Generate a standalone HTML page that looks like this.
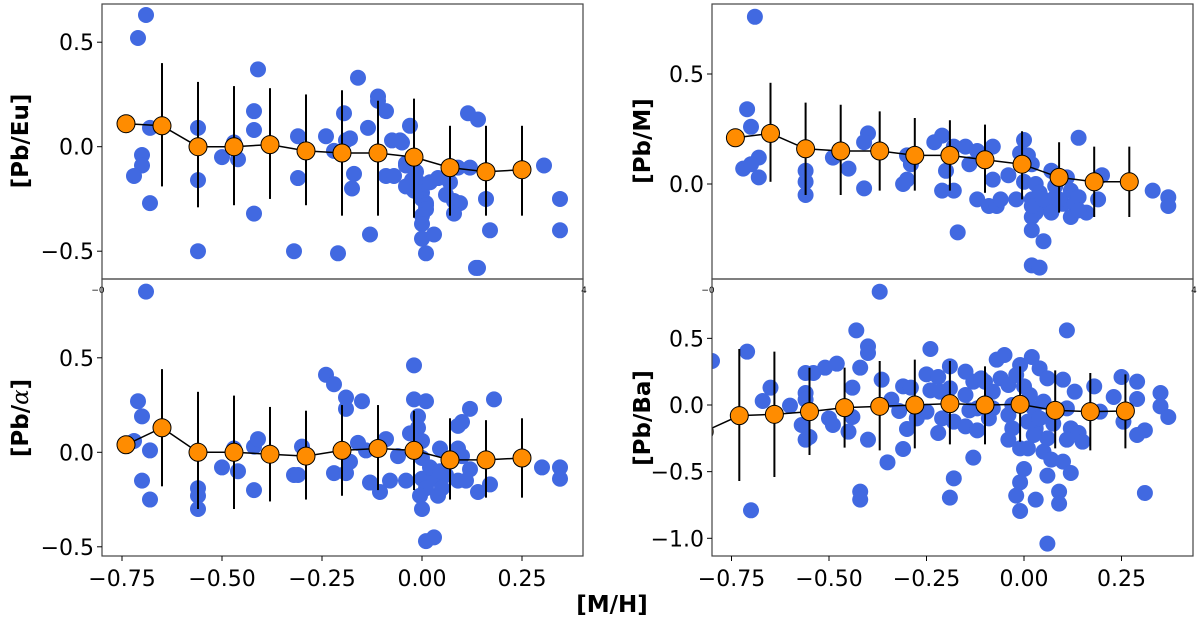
<!DOCTYPE html>
<html><head><meta charset="utf-8"><style>
html,body{margin:0;padding:0;background:#fff;}
svg{display:block;font-family:"DejaVu Sans","Liberation Sans",sans-serif;}
</style></head><body>
<svg id="chart" width="1200" height="619" viewBox="0 0 1200 619" xmlns="http://www.w3.org/2000/svg"></svg>
<script>
// ---- Panel Pb/Eu (top-left)
const euBlueX=[-0.69,-0.71,-0.68,-0.70,-0.70,-0.72,-0.68,-0.56,-0.56,-0.56,-0.50,-0.47,-0.46,-0.42,-0.42,-0.42,-0.41,-0.32,-0.31,-0.31,-0.24,-0.22,-0.16,-0.18,-0.175,-0.11,-0.11,-0.09,-0.075,-0.055,-0.05,-0.09,-0.07,-0.04,-0.04,-0.04,-0.03,-0.01,-0.025,0,0,0.01,0.01,0.01,0,0,0,0.03,0.01,0.02,-0.02,-0.015,0.04,0.06,0.07,0.08,0.095,0.08,0.09,0.115,0.14,0.12,0.16,0.17,0.14,0.305,0.345,0.345,0.135,-0.13,-0.21,-0.19,-0.195,-0.17,-0.135];
const euBlueY=[0.63,0.52,0.09,-0.04,-0.09,-0.14,-0.27,0.09,-0.16,-0.50,-0.05,0.02,-0.06,0.17,0.08,-0.32,0.37,-0.50,0.05,-0.15,0.05,-0.02,0.33,0.04,-0.20,0.24,0.22,0.17,0.03,0.03,0.02,-0.14,-0.14,-0.19,-0.08,-0.09,0.10,-0.17,-0.16,-0.22,-0.25,-0.27,-0.28,-0.30,-0.33,-0.37,-0.44,-0.42,-0.51,-0.17,-0.21,-0.12,-0.15,-0.23,-0.17,-0.26,-0.27,-0.32,-0.10,0.16,0.13,-0.10,-0.25,-0.40,-0.58,-0.09,-0.25,-0.40,-0.58,-0.42,-0.51,0.03,0.16,-0.13,0.09];
const euMedX=[-0.74,-0.65,-0.56,-0.47,-0.38,-0.29,-0.20,-0.11,-0.02,0.07,0.16,0.25];
const euMedY=[0.11,0.10,0.00,0.00,0.01,-0.02,-0.03,-0.03,-0.05,-0.10,-0.12,-0.11];
const euHi=[0.11,0.40,0.31,0.29,0.28,0.25,0.27,0.22,0.23,0.10,0.10,0.10];
const euLo=[0.11,-0.19,-0.29,-0.28,-0.25,-0.28,-0.33,-0.33,-0.34,-0.33,-0.33,-0.33];
// ---- Panel Pb/M (top-right)
const mBlueX=[-0.69,-0.71,-0.70,-0.68,-0.72,-0.70,-0.68,-0.56,-0.56,-0.56,-0.49,-0.45,-0.41,-0.40,-0.41,-0.31,-0.30,-0.30,-0.29,-0.23,-0.21,-0.20,-0.21,-0.18,-0.18,-0.15,-0.12,-0.14,-0.17,-0.08,-0.12,-0.09,-0.07,-0.06,-0.04,-0.08,-0.02,0.00,-0.01,0.01,0.02,0.00,0.03,0.02,0.04,0.06,0.03,0.02,0.02,0.05,0.02,0.04,0.07,0.08,0.11,0.12,0.10,0.13,0.14,0.16,0.12,0.14,0.19,0.20,0.33,0.37,0.37,0.07,0.02,0.05,0.08,0.09,0.14];
const mBlueY=[0.76,0.34,0.26,0.12,0.07,0.09,0.03,0.06,0.01,-0.05,0.12,0.07,-0.02,0.23,0.19,0.00,0.02,0.13,0.09,0.19,0.22,0.06,-0.03,-0.03,0.17,0.17,0.15,0.09,-0.22,0.17,-0.07,-0.10,-0.10,-0.07,0.04,0.02,-0.07,0.20,0.14,0.13,0.09,0.01,0.00,-0.07,-0.04,-0.10,-0.13,-0.15,-0.21,-0.26,-0.37,-0.38,0.06,-0.01,0.03,-0.03,-0.09,-0.09,-0.06,-0.13,-0.15,0.21,-0.07,0.04,-0.03,-0.06,-0.10,-0.13,-0.10,-0.07,-0.06,-0.07,-0.12];
const mMedX=[-0.74,-0.65,-0.56,-0.47,-0.37,-0.28,-0.19,-0.10,-0.005,0.09,0.18,0.27];
const mMedY=[0.21,0.23,0.16,0.15,0.15,0.13,0.13,0.11,0.09,0.03,0.01,0.01];
const mHi=[0.21,0.46,0.37,0.36,0.33,0.30,0.29,0.27,0.24,0.19,0.17,0.17];
const mLo=[0.21,0.01,-0.05,-0.05,-0.03,-0.03,-0.03,-0.04,-0.07,-0.13,-0.15,-0.15];
// ---- Panel Pb/alpha (bottom-left)
const aBlueX=[-0.69,-0.71,-0.70,-0.72,-0.68,-0.70,-0.68,-0.56,-0.56,-0.56,-0.50,-0.46,-0.42,-0.41,-0.42,-0.47,-0.32,-0.31,-0.30,-0.24,-0.22,-0.19,-0.19,-0.15,-0.22,-0.19,-0.18,-0.16,-0.14,-0.13,-0.105,-0.09,-0.08,-0.06,-0.04,-0.02,-0.02,0.01,-0.01,-0.01,-0.03,0.00,0.00,0.00,0.01,-0.005,0.00,0.01,0.03,0.04,0.045,0.06,0.09,0.10,0.12,0.18,0.09,0.10,0.09,0.12,0.14,0.17,0.11,0.30,0.345,0.345,0.03,0.05,0.02,0.045];
const aBlueY=[0.85,0.27,0.19,0.06,0.01,-0.15,-0.25,-0.19,-0.23,-0.30,-0.08,-0.10,0.03,0.07,-0.20,0.02,-0.12,-0.12,0.03,0.41,0.36,0.29,0.23,0.27,-0.11,-0.11,-0.05,0.05,0.01,-0.16,-0.21,0.07,-0.15,-0.02,-0.15,0.46,0.28,0.27,0.19,0.13,0.10,0.06,-0.03,-0.14,-0.19,-0.23,-0.30,-0.47,-0.45,-0.23,0.02,-0.12,0.14,0.16,0.23,0.28,0.02,-0.02,-0.15,-0.09,-0.21,-0.17,-0.15,-0.08,-0.08,-0.14,-0.14,-0.19,-0.08,-0.10];
const aMedX=[-0.74,-0.65,-0.56,-0.47,-0.38,-0.29,-0.20,-0.11,-0.02,0.07,0.16,0.25];
const aMedY=[0.04,0.13,0.00,0.00,-0.01,-0.02,0.01,0.02,0.01,-0.04,-0.04,-0.03];
const aHi=[0.04,0.44,0.32,0.30,0.24,0.22,0.25,0.25,0.22,0.18,0.17,0.18];
const aLo=[0.04,-0.18,-0.30,-0.30,-0.26,-0.25,-0.23,-0.20,-0.20,-0.25,-0.24,-0.24];
// ---- Panel Pb/Ba (bottom-right)
const bBlueX=[-0.80,-0.71,-0.65,-0.67,-0.60,-0.70,-0.56,-0.54,-0.51,-0.48,-0.56,-0.56,-0.57,-0.55,-0.56,-0.50,-0.49,-0.43,-0.40,-0.40,-0.42,-0.44,-0.44,-0.45,-0.40,-0.42,-0.42,-0.365,-0.35,-0.34,-0.32,-0.31,-0.30,-0.31,-0.29,-0.275,-0.24,-0.25,-0.22,-0.24,-0.215,-0.25,-0.21,-0.22,-0.19,-0.19,-0.18,-0.15,-0.18,-0.19,-0.15,-0.13,-0.11,-0.15,-0.14,-0.12,-0.12,-0.13,-0.10,-0.08,-0.07,-0.05,-0.06,-0.04,-0.04,-0.03,-0.04,-0.01,0.02,0.04,-0.02,0.00,0.015,0.025,0.01,0.03,-0.01,0.01,0.00,-0.01,-0.02,-0.01,0.03,0.05,0.06,0.07,0.06,0.10,0.12,0.09,0.09,0.06,0.11,0.06,0.10,0.13,0.05,0.075,0.11,0.12,0.14,0.11,0.15,0.075,0.18,0.195,0.23,0.25,0.255,0.29,0.29,0.31,0.29,0.35,0.35,0.37,0.31,0.04,0.025,-0.03,-0.08,-0.09,-0.37];
const bBlueY=[0.33,0.40,0.13,0.03,-0.005,-0.79,0.24,0.24,0.28,0.31,0.09,0.04,-0.15,-0.24,-0.26,-0.10,-0.15,0.56,0.44,0.39,0.28,0.13,-0.09,-0.20,-0.26,-0.65,-0.71,0.19,-0.43,0.04,-0.045,0.14,-0.18,-0.33,0.13,-0.10,0.42,0.23,0.21,0.11,0.10,-0.05,-0.10,-0.21,0.29,0.125,-0.125,-0.16,-0.55,-0.695,0.25,0.175,0.20,0.075,-0.04,-0.025,-0.19,-0.395,0.175,0.10,0.34,0.375,0.20,0.15,-0.075,-0.175,-0.26,0.30,0.36,0.275,0.225,0.14,0.075,-0.025,-0.125,-0.175,-0.325,-0.325,-0.48,-0.58,-0.68,-0.795,-0.71,-0.35,-0.25,-0.41,-0.53,-0.425,-0.51,-0.65,-0.74,-1.04,0.56,0.20,0.19,0.10,0.025,-0.075,-0.025,-0.175,-0.21,-0.26,-0.275,-0.14,0.14,-0.05,0.06,0.21,-0.125,0.175,0.045,-0.19,-0.225,0.09,-0.01,-0.09,-0.66,-0.10,-0.225,0.00,-0.025,-0.10,0.85];
const bMedX=[-0.82,-0.73,-0.64,-0.55,-0.46,-0.37,-0.28,-0.19,-0.10,-0.01,0.08,0.17,0.26];
const bMedY=[-0.20,-0.08,-0.07,-0.05,-0.02,-0.01,0.00,0.01,0.00,0.005,-0.04,-0.05,-0.045];
const bHi=[-0.20,0.42,0.40,0.28,0.28,0.33,0.34,0.33,0.29,0.29,0.26,0.24,0.23];
const bLo=[-0.20,-0.57,-0.54,-0.375,-0.32,-0.34,-0.325,-0.295,-0.295,-0.275,-0.325,-0.34,-0.325];
const xTickVals=[-0.75,-0.50,-0.25,0.00,0.25];
const xTickLabels=["\u22120.75","\u22120.50","\u22120.25","0.00","0.25"];

const NS="http://www.w3.org/2000/svg";
const svg=document.getElementById('chart');
function mk(tag,attrs,parent){const e=document.createElementNS(NS,tag);for(const k in attrs)e.setAttribute(k,attrs[k]);(parent||svg).appendChild(e);return e;}
function fmt(v){return (v<0?"\u2212":"")+Math.abs(v).toFixed(1);}

const panels=[
 {id:'eu',L:102,R:583,T:4,B:279,x0:422,xs:400,y0:146.7,ys:209,yt:[0.5,0,-0.5],xl:false,bx:euBlueX,by:euBlueY,mx:euMedX,my:euMedY,hi:euHi,lo:euLo},
 {id:'m',L:712,R:1193,T:4,B:279,x0:1024,xs:390,y0:184,ys:220,yt:[0.5,0],xl:false,bx:mBlueX,by:mBlueY,mx:mMedX,my:mMedY,hi:mHi,lo:mLo},
 {id:'alpha',L:102,R:583,T:279,B:556,x0:422,xs:400,y0:452.3,ys:189,yt:[0.5,0,-0.5],xl:true,bx:aBlueX,by:aBlueY,mx:aMedX,my:aMedY,hi:aHi,lo:aLo},
 {id:'ba',L:712,R:1193,T:279,B:556,x0:1024,xs:390,y0:405,ys:133.3,yt:[0.5,0,-0.5,-1.0],xl:true,bx:bBlueX,by:bBlueY,mx:bMedX,my:bMedY,hi:bHi,lo:bLo}
];
const defs=mk('defs',{});
panels.forEach(p=>{
 const sx=v=>p.x0+p.xs*v, sy=v=>p.y0-p.ys*v;
 const cp=mk('clipPath',{id:'clip-'+p.id},defs);
 mk('rect',{x:p.L,y:p.T,width:p.R-p.L,height:p.B-p.T},cp);
 const g=mk('g',{'clip-path':'url(#clip-'+p.id+')'});
 
 
 p.bx.forEach((x,i)=>{
  const c=mk('circle',{cx:sx(x),cy:sy(p.by[i]),r:8,fill:'#4169E1'},g);
  
  
 });
 p.mx.forEach((x,i)=>{
  if(p.hi[i]!==p.lo[i]){
   const l=mk('line',{x1:sx(x),x2:sx(x),y1:sy(p.hi[i]),y2:sy(p.lo[i]),stroke:'#000','stroke-width':2},g);
   
   
  }
 });
 const pl=mk('polyline',{points:p.mx.map((x,i)=>sx(x)+','+sy(p.my[i])).join(' '),fill:'none',stroke:'#000','stroke-width':1.5},g);
 
 
 p.mx.forEach((x,i)=>{
  const c=mk('circle',{cx:sx(x),cy:sy(p.my[i]),r:9,fill:'#FF8C00',stroke:'#000','stroke-width':1},g);
  
  
 });
 const fr=mk('rect',{x:p.L,y:p.T,width:p.R-p.L,height:p.B-p.T,fill:'none',stroke:'#444','stroke-width':1.2});
 
 
 p.yt.forEach(v=>{
  const y=sy(v);
  mk('line',{x1:p.L-5,x2:p.L,y1:y,y2:y,stroke:'#000','stroke-width':1});
  const t=mk('text',{x:p.L-8,y:y+8,'text-anchor':'end','font-size':22,fill:'#000'});
  t.textContent=fmt(v);
  
  
 });
 xTickVals.forEach((v,i)=>{
  const x=sx(v);
  if(p.xl){
   mk('line',{x1:x,x2:x,y1:p.B,y2:p.B+5,stroke:'#000','stroke-width':1});
   const t=mk('text',{x:x,y:p.B+30,'text-anchor':'middle','font-size':22,fill:'#000'});
   t.textContent=xTickLabels[i];
   
   
  }
 });
 if(!p.xl){
  const t1=mk('text',{x:p.L-4,y:p.B+14,'text-anchor':'middle','font-size':9,fill:'#000'});
  t1.textContent='\u22120';
  
  
  const t2=mk('text',{x:p.R+1,y:p.B+14,'text-anchor':'middle','font-size':9,fill:'#000'});
  t2.textContent='4';
  
  
 }
});
</script>
<div style="position:absolute;left:0;top:0;width:1200px;height:619px;pointer-events:none;">
<svg width="1200" height="619" style="position:absolute;left:0;top:0" font-family="DejaVu Sans, Liberation Sans, sans-serif">
<text transform="translate(28,141) rotate(-90)" text-anchor="middle" font-size="23" font-weight="bold">[Pb/Eu]</text>
<text transform="translate(650,141) rotate(-90)" text-anchor="middle" font-size="23" font-weight="bold">[Pb/M]</text>
<text transform="translate(28,418) rotate(-90)" text-anchor="middle" font-size="23" font-weight="bold">[Pb/<tspan font-weight="normal" font-style="italic" font-family="DejaVu Serif, serif">α</tspan>]</text>
<text transform="translate(650,418) rotate(-90)" text-anchor="middle" font-size="23" font-weight="bold">[Pb/Ba]</text>
<text x="612" y="612" text-anchor="middle" font-size="23" font-weight="bold">[M/H]</text>
</svg>
</div>
</body></html>
